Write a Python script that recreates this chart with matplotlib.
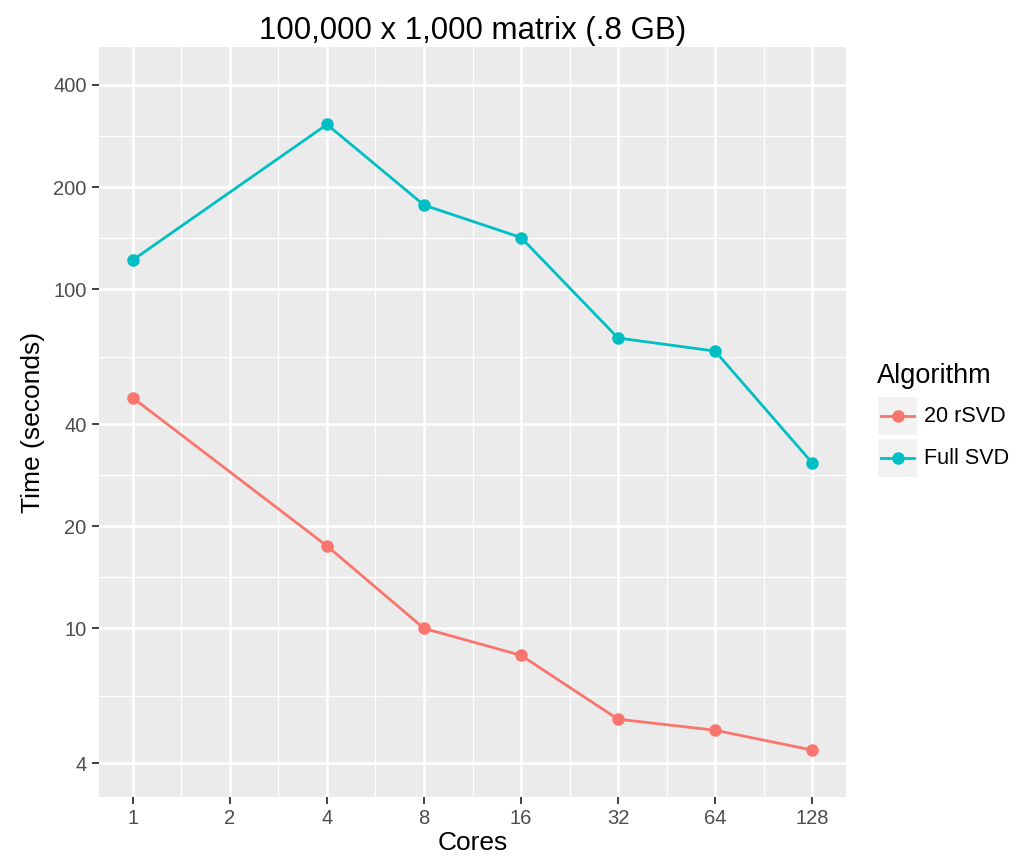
import numpy as np
import matplotlib
matplotlib.use('Agg')
import matplotlib.pyplot as plt
from matplotlib.ticker import FixedLocator, NullFormatter
from matplotlib.patches import Rectangle
from matplotlib.lines import Line2D

plt.rcParams['font.family'] = ['Liberation Sans', 'DejaVu Sans']

# Data
cores = [1, 4, 8, 16, 32, 64, 128]
full_svd = [122, 306, 177, 142, 71.8, 65.7, 30.8]
rsvd = [47.8, 17.5, 10.0, 8.33, 5.40, 5.01, 4.38]

series_names = ['20 rSVD', 'Full SVD']
series_colors = ['#F8766D', '#00BFC4']

x_ticks = [1, 2, 4, 8, 16, 32, 64, 128]
y_ticks = [4, 10, 20, 40, 100, 200, 400]

W, H = 1023, 858
fig = plt.figure(figsize=(W / 100, H / 100), dpi=100)
ax = fig.add_axes([99 / W, 1 - 797 / H, (846 - 99) / W, (797 - 47) / H])
ax.set_facecolor('#EBEBEB')

ax.set_xscale('log', base=2)
ax.set_yscale('log')
ax.set_xlim(2 ** -0.35, 2 ** 7.35)
ax.set_ylim(10 ** 0.503, 10 ** 2.714)

# minor grid lines half way between the major breaks (ggplot style)
x_minor = [np.sqrt(a * b) for a, b in zip(x_ticks[:-1], x_ticks[1:])]
y_minor = [np.sqrt(a * b) for a, b in zip(y_ticks[:-1], y_ticks[1:])]
for v in x_minor:
    ax.axvline(v, color='white', lw=0.9, zorder=0.5)
for v in y_minor:
    ax.axhline(v, color='white', lw=0.9, zorder=0.5)
for v in x_ticks:
    ax.axvline(v, color='white', lw=1.8, zorder=0.6)
for v in y_ticks:
    ax.axhline(v, color='white', lw=1.8, zorder=0.6)

for vals, col in zip([rsvd, full_svd], series_colors):
    ax.plot(cores, vals, color=col, lw=2.0, marker='o', ms=8, zorder=3)

ax.xaxis.set_major_locator(FixedLocator(x_ticks))
ax.xaxis.set_minor_locator(FixedLocator([]))
ax.set_xticklabels([str(v) for v in x_ticks])
ax.yaxis.set_major_locator(FixedLocator(y_ticks))
ax.yaxis.set_minor_locator(FixedLocator([]))
ax.yaxis.set_minor_formatter(NullFormatter())
ax.set_yticklabels([str(v) for v in y_ticks])

ax.tick_params(axis='both', which='major', length=5, width=1.3, color='#333333',
               labelcolor='#4D4D4D', labelsize=14.5, pad=4)
for s in ax.spines.values():
    s.set_visible(False)

ax.set_xlabel('Cores', fontsize=19, labelpad=2)
ax.set_ylabel('Time (seconds)', fontsize=19, labelpad=6)
ax.set_title('100,000 x 1,000 matrix (.8 GB)', fontsize=22.5, pad=6)

# legend drawn by hand to get the grey key boxes
fig.text(877 / W, 1 - 376 / H, 'Algorithm', fontsize=19.5, va='center', ha='left')
for i, (name, col) in enumerate(zip(series_names, series_colors)):
    top = 397 + i * 42
    fig.add_artist(Rectangle((878 / W, 1 - (top + 38) / H), 39 / W, 38 / H,
                             transform=fig.transFigure, facecolor='#F2F2F2',
                             edgecolor='none'))
    yc = 1 - (top + 19) / H
    fig.add_artist(Line2D([881 / W, 914 / W], [yc, yc], transform=fig.transFigure,
                          color=col, lw=2.0))
    fig.add_artist(Line2D([897.5 / W], [yc], transform=fig.transFigure,
                          color=col, marker='o', ms=8, lw=0))
    fig.text(924 / W, yc, name, fontsize=15.5, va='center', ha='left')

fig.savefig('out.png', dpi=100)
